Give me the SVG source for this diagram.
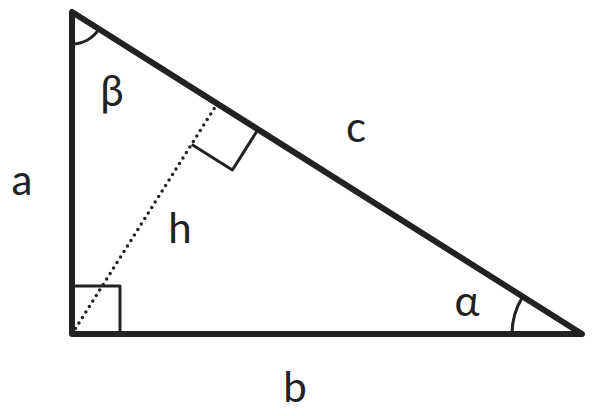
<svg xmlns="http://www.w3.org/2000/svg" width="600" height="416" viewBox="0 0 600 416">
<style>
.l{fill:none;stroke:#222;stroke-linejoin:round}
text{font-family:Lato,"DejaVu Sans",sans-serif;font-size:42px;fill:#222;text-anchor:middle}
</style>
<rect width="600" height="416" fill="#fff"/>
<g id="connectors">
<line class="l" x1="72" y1="334" x2="217" y2="104" stroke-width="3.5" stroke-dasharray="0 6.5" stroke-linecap="round"/>
</g>
<g id="triangle">
<polygon class="l" points="72,12 72,334 582,334" stroke-width="6"/>
<polyline class="l" points="72,286 120,286 120,334" stroke-width="3"/>
<polyline class="l" points="258,129.4 232.4,170 191.8,144.4" stroke-width="3"/>
<path class="l" d="M72,44 A32,32 0 0 0 99,29" stroke-width="3"/>
<path class="l" d="M512,334 A70,70 0 0 1 522.8,296.6" stroke-width="3"/>
</g>
<g id="labels">
<text x="22" y="195">a</text>
<text x="112" y="106">β</text>
<text x="356" y="142">c</text>
<text x="180" y="243">h</text>
<text x="467" y="316">α</text>
<text x="295" y="402">b</text>
</g>
</svg>
